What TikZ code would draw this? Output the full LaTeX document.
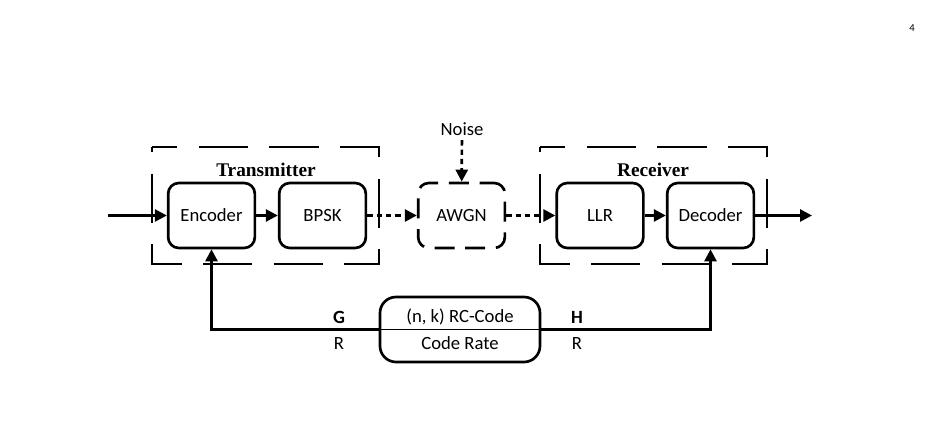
\documentclass[tikz,border=0pt]{standalone}
\usepackage{fontspec}
\setmainfont{Carlito}
\newfontfamily\titlefont{Liberation Serif}
\usetikzlibrary{arrows.meta}
\tikzset{
    blk/.style ={rectangle,rounded corners=8pt,minimum width=65pt,minimum height=48.75pt,draw,line width=2pt,font=\fontsize{14}{16}\selectfont},
    dblk/.style ={blk,dash pattern=on 15pt off 8pt,dash phase=4pt},
    grp/.style ={draw,line width=2pt,dash pattern=on 37pt off 16pt,dash phase=-20pt},
    ttl/.style ={font=\titlefont\bfseries\fontsize{14.5}{16}\selectfont},
    arr/.style ={line width=2pt,-{Triangle[length=9pt,width=9pt]}},
    darr/.style ={arr,dash pattern=on 4pt off 3pt},
    lbl/.style ={font=\fontsize{14}{16}\selectfont}}
\begin{document}
\begin{tikzpicture}[x=0.75pt,y=-0.75pt]
        \useasboundingbox (0,0) rectangle (936,448);
        \node[font=\fontsize{8}{9}\selectfont] (page) at (912,28) {4};
        % groups
        \draw[grp] (152,147) rectangle (379,264);
        \draw[grp] (540,147) rectangle (767,264);
        \node[ttl] (tx) at (266,170) {Transmitter};
        \node[ttl] (rx) at (653,170) {Receiver};
        % blocks
        \node[blk] (enc) at (211.5,215.5) {Encoder};
        \node[blk] (bpsk) at (322.5,215.5) {BPSK};
        \node[dblk] (awgn) at (461.5,215.5) {AWGN};
        \node[blk] (llr) at (600,215.5) {LLR};
        \node[blk] (dec) at (710.5,215.5) {Decoder};
        \node[lbl] (noise) at (462,129) {Noise};
        \coordinate (in) at (108,215.5);
        \coordinate (out) at (812,215.5);
        \draw[arr] (in) -- (enc);
        \draw[arr] (enc) -- (bpsk);
        \draw[darr] (bpsk) -- (awgn);
        \draw[darr] (awgn) -- (llr);
        \draw[arr] (llr) -- (dec);
        \draw[arr] (dec) -- (out);
        \draw[darr] (noise) -- (awgn);
        % code block
        \node[rectangle,rounded corners=12pt,draw,line width=2pt,minimum width=120pt,minimum height=48.75pt] (rc) at (460,329.5) {};
        \draw[line width=0.8pt] (rc.west) -- (rc.east);
        \node[lbl] (rct) at (460,317) {(n, k) RC-Code};
        \node[lbl] (rcb) at (460,343) {Code Rate};
        \draw[arr] (rc.west) -| (enc.south);
        \draw[arr] (rc.east) -| (dec.south);
        \node[lbl,font=\bfseries\fontsize{14}{16}\selectfont] (g) at (339,317) {G};
        \node[lbl] (gr) at (339,344) {R};
        \node[lbl,font=\bfseries\fontsize{14}{16}\selectfont] (h) at (577,317) {H};
        \node[lbl] (hr) at (577,344) {R};
\end{tikzpicture}
\end{document}
